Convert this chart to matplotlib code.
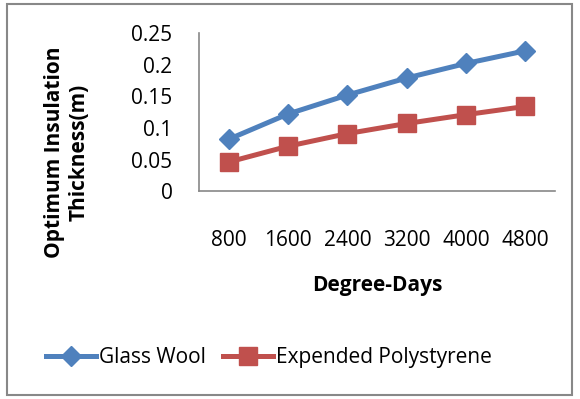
import matplotlib
matplotlib.use("Agg")
import matplotlib.pyplot as plt
from matplotlib.patches import Rectangle

categories = ["800", "1600", "2400", "3200", "4000", "4800"]
glass_wool = [0.082, 0.122, 0.152, 0.179, 0.202, 0.222]
polystyrene = [0.046, 0.071, 0.091, 0.107, 0.121, 0.134]
yticks = [0, 0.05, 0.1, 0.15, 0.2, 0.25]
ytick_labels = ["0", "0.05", "0.1", "0.15", "0.2", "0.25"]

plt.rcParams['font.family'] = ['Open Sans', 'DejaVu Sans']
FS = 15

fig = plt.figure(figsize=(5.8, 3.99), dpi=100)
ax = fig.add_axes([0.343, 0.521, 0.614, 0.396])
x = list(range(len(categories)))
ax.plot(x, glass_wool, color='#4F81BD', lw=3.6, marker='D', markersize=10,
        label='Glass Wool')
ax.plot(x, polystyrene, color='#C0504D', lw=3.6, marker='s', markersize=13.5,
        label='Expended Polystyrene')
ax.set_xlim(-0.5, 5.5)
ax.set_ylim(0, 0.25)
ax.set_yticks(yticks)
ax.set_yticklabels(ytick_labels)
ax.set_xticks(x)
ax.set_xticklabels(categories)
ax.tick_params(axis='both', length=0, labelsize=FS)
ax.tick_params(axis='x', pad=28)
ax.tick_params(axis='y', pad=19)
for s in ['top', 'right']:
    ax.spines[s].set_visible(False)
for s in ['left', 'bottom']:
    ax.spines[s].set_color('#888888')
    ax.spines[s].set_linewidth(1.2)

fig.text(67/580, 1-152/399, "Optimum Insulation\nThickness(m)", rotation=90,
         ha='center', va='center', multialignment='center', fontsize=FS,
         fontweight='bold')
fig.text(377/580, 1-286/399, "Degree-Days", ha='center', va='center',
         fontsize=FS, fontweight='bold')

fig.legend(loc='center', bbox_to_anchor=(0.464, 0.103), ncol=2, frameon=False,
           fontsize=FS, handlelength=2.4, columnspacing=0.8, handletextpad=0.15)

fig.patches.append(Rectangle((7/580, 4/399), 565/580, 391/399, transform=fig.transFigure,
                             fill=False, edgecolor='#888888', lw=1.5))
fig.savefig("out.png", dpi=100)
